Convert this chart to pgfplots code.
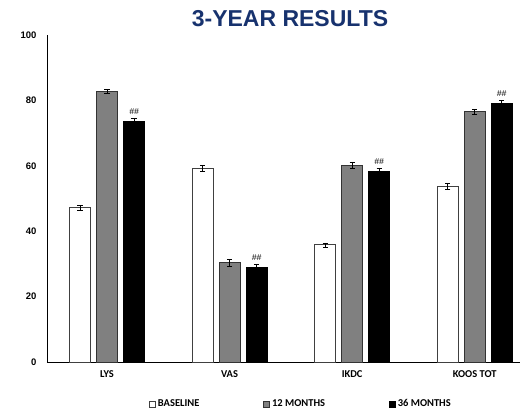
\documentclass[border=0pt]{standalone}
\usepackage{pgfplots}
\pgfplotsset{compat=1.18}
\usepackage{fontspec}
\setmainfont{Liberation Sans}
\newfontfamily\carlito{Carlito}
\definecolor{navy}{HTML}{17326E}
\definecolor{midgray}{HTML}{808080}
\begin{document}
\begin{tikzpicture}
\useasboundingbox (-47pt,-48pt) rectangle (474pt,362pt);
\node[font=\bfseries\fontsize{23}{26}\selectfont, text=navy, anchor=center] at (243pt,343pt) {3-YEAR RESULTS};
\begin{axis}[
  at={(0pt,0pt)}, anchor=south west,
  scale only axis, width=473pt, height=327pt,
  ymin=0, ymax=100, ytick={0,20,40,60,80,100},
  xmin=-0.49, xmax=3.37,
  xtick={0,1,2,3}, xticklabels={LYS,VAS,IKDC,KOOS TOT},
  axis x line*=bottom, axis y line*=left,
  axis line style={-, black, line width=0.8pt},
  major tick length=0pt,
  /pgf/number format/assume math mode=true,
  yticklabel style={font=\bfseries\fontsize{9.5}{10}\selectfont, xshift=-7pt},
  xticklabel style={font=\carlito\bfseries\fontsize{10.5}{11}\selectfont, yshift=-5pt},
  ybar, bar width=21pt,
  legend columns=3,
  legend style={at={(0.537,-0.128)}, anchor=center, draw=none, fill=none,
    font=\carlito\bfseries\fontsize{10.5}{11}\selectfont,
    /tikz/every even column/.append style={column sep=62pt}},
  legend image code/.code={\draw[#1, line width=0.7pt] (0pt,-3pt) rectangle (6pt,3pt);},
  error bars/y dir=both, error bars/y explicit,
  error bars/error bar style={black, line width=0.6pt},
  error bars/error mark options={rotate=90, mark size=2.6pt, black, line width=0.6pt},
]
\addplot[fill=white, draw=black!75, line width=1pt, bar shift=-27pt]
  coordinates {(0,47.1) +- (0,0.8) (1,59.2) +- (0,1.0) (2,35.8) +- (0,0.6) (3,53.7) +- (0,0.8)};
\addlegendentry{BASELINE}
\addplot[fill=midgray, draw=black!80, line width=1pt, bar shift=0pt]
  coordinates {(0,82.8) +- (0,0.6) (1,30.3) +- (0,1.0) (2,60.2) +- (0,1.0) (3,76.5) +- (0,0.7)};
\addlegendentry{12 MONTHS}
\addplot[fill=black, draw=black, line width=1pt, bar shift=27pt,
  nodes near coords={\#\#},
  every node near coord/.append style={font=\itshape\fontsize{8.5}{9}\selectfont, anchor=south, yshift=3pt, black}]
  coordinates {(0,73.5) +- (0,1.0) (1,28.8) +- (0,1.0) (2,58.2) +- (0,1.0) (3,79.0) +- (0,1.0)};
\addlegendentry{36 MONTHS}
\end{axis}
\end{tikzpicture}
\end{document}
